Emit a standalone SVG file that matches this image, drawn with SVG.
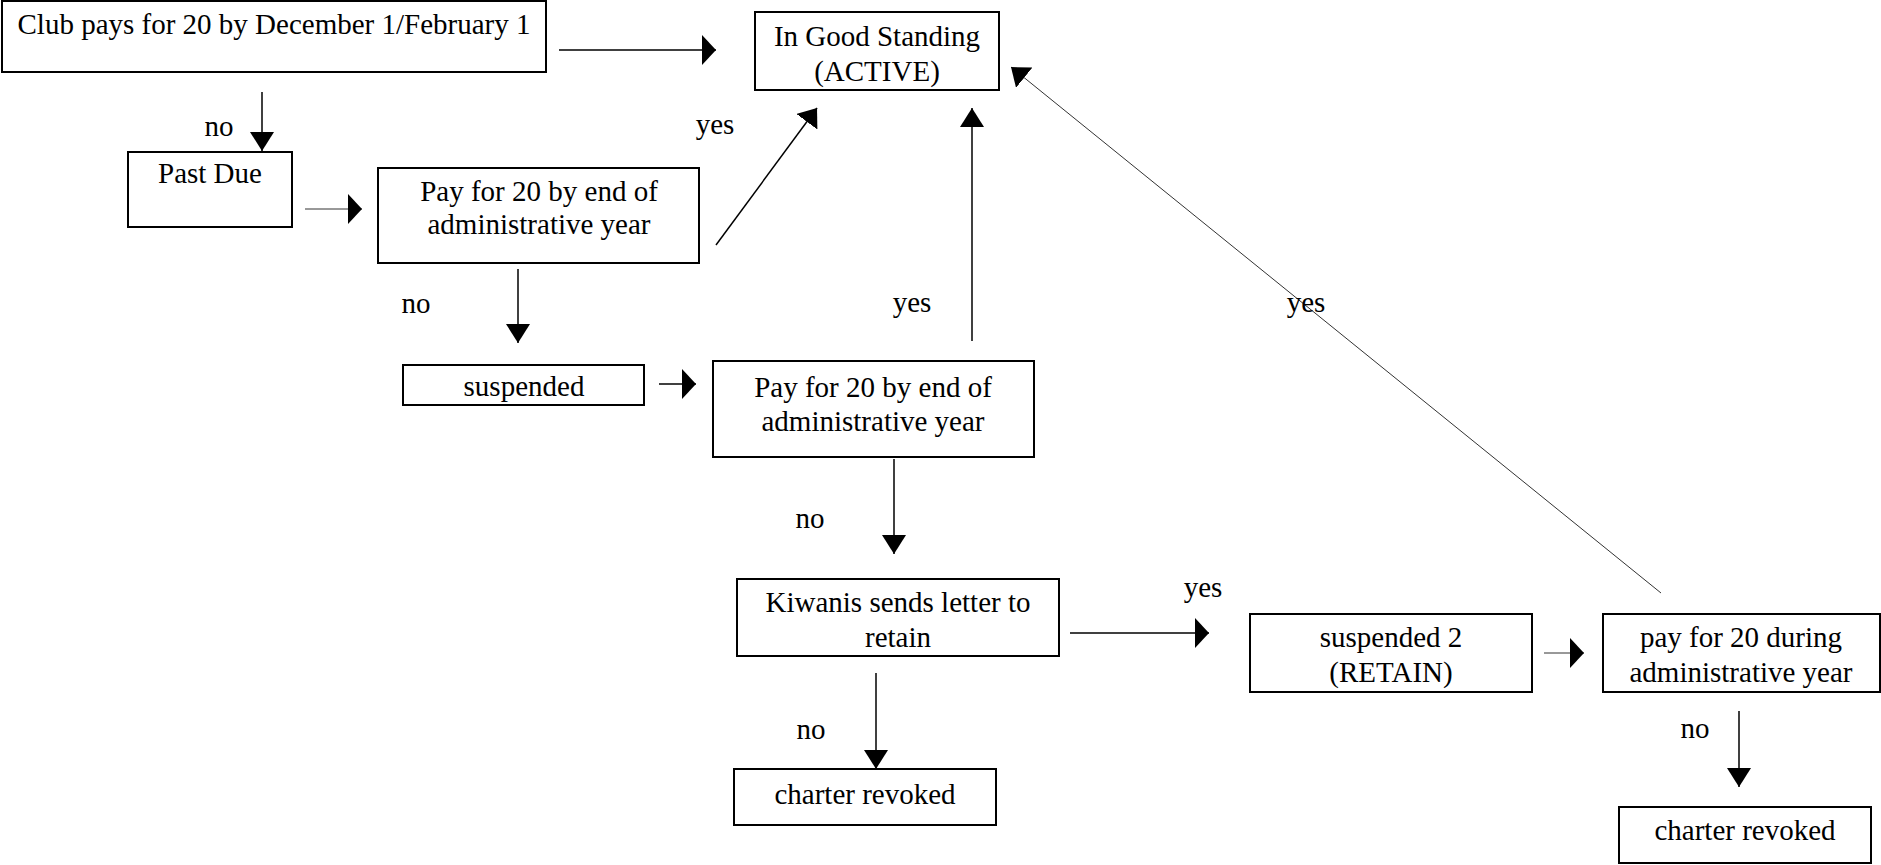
<svg xmlns="http://www.w3.org/2000/svg" width="1881" height="865" viewBox="0 0 1881 865">
<style>
.box{fill:#fff;stroke:#000;stroke-width:2}
text{font-family:"Liberation Serif","Times New Roman",serif;font-size:29px;fill:#000;text-anchor:middle}
.c{stroke:#000;stroke-width:1.5;fill:none}
.h{marker-end:url(#ahH)}
.v{marker-end:url(#ahV)}
.d{marker-end:url(#ahD)}
.thin{stroke:#333;stroke-width:1}
</style>
<defs>
<marker id="ahH" markerUnits="userSpaceOnUse" markerWidth="16" markerHeight="32" refX="14" refY="15" orient="auto">
<path d="M0,0 L14,15 L0,30 Z" fill="#000"/>
</marker>
<marker id="ahV" markerUnits="userSpaceOnUse" markerWidth="20" markerHeight="26" refX="19" refY="12" orient="auto">
<path d="M0,0 L19,12 L0,24 Z" fill="#000"/>
</marker>
<marker id="ahD" markerUnits="userSpaceOnUse" markerWidth="20" markerHeight="28" refX="17" refY="13" orient="auto">
<path d="M0,0 L17,13 L0,26 Z" fill="#000"/>
</marker>
</defs>
<rect width="1881" height="865" fill="#fff"/>
<g id="connectors">
<line class="c h" x1="559" y1="50" x2="716" y2="50"/>
<line class="c v" x1="262" y1="92" x2="262" y2="151"/>
<line class="c thin h" x1="305" y1="209" x2="362" y2="209"/>
<line class="c d" x1="716" y1="245" x2="817" y2="108"/>
<line class="c v" x1="518" y1="269" x2="518" y2="343"/>
<line class="c h" x1="659" y1="384" x2="696" y2="384"/>
<line class="c v" x1="972" y1="341" x2="972" y2="108"/>
<line class="c v" x1="894" y1="459" x2="894" y2="554"/>
<line class="c h" x1="1070" y1="633" x2="1209" y2="633"/>
<line class="c v" x1="876" y1="673" x2="876" y2="769"/>
<line class="c thin h" x1="1544" y1="653" x2="1584" y2="653"/>
<line class="c thin d" x1="1661" y1="593" x2="1011" y2="67"/>
<line class="c v" x1="1739" y1="711" x2="1739" y2="787"/>
<text x="219" y="136">no</text>
<text x="715" y="134">yes</text>
<text x="416" y="313">no</text>
<text x="912" y="312">yes</text>
<text x="810" y="528">no</text>
<text x="1203" y="597">yes</text>
<text x="811" y="739">no</text>
<text x="1306" y="312">yes</text>
<text x="1695" y="738">no</text>
</g>
<g id="n_club"><rect class="box" x="2" y="1" width="544" height="71"/><text x="274" y="34">Club pays for 20 by December 1/February 1</text></g>
<g id="n_active"><rect class="box" x="755" y="12" width="244" height="78"/><text x="877" y="46">In Good Standing</text><text x="877" y="81">(ACTIVE)</text></g>
<g id="n_pastdue"><rect class="box" x="128" y="152" width="164" height="75"/><text x="210" y="183">Past Due</text></g>
<g id="n_pay1"><rect class="box" x="378" y="168" width="321" height="95"/><text x="539" y="201">Pay for 20 by end of</text><text x="539" y="234">administrative year</text></g>
<g id="n_susp"><rect class="box" x="403" y="365" width="241" height="40"/><text x="524" y="396">suspended</text></g>
<g id="n_pay2"><rect class="box" x="713" y="361" width="321" height="96"/><text x="873" y="397">Pay for 20 by end of</text><text x="873" y="431">administrative year</text></g>
<g id="n_kiwanis"><rect class="box" x="737" y="579" width="322" height="77"/><text x="898" y="612">Kiwanis sends letter to</text><text x="898" y="647">retain</text></g>
<g id="n_revoked1"><rect class="box" x="734" y="769" width="262" height="56"/><text x="865" y="804">charter revoked</text></g>
<g id="n_susp2"><rect class="box" x="1250" y="614" width="282" height="78"/><text x="1391" y="647">suspended 2</text><text x="1391" y="682">(RETAIN)</text></g>
<g id="n_pay3"><rect class="box" x="1603" y="614" width="277" height="78"/><text x="1741" y="647">pay for 20 during</text><text x="1741" y="682">administrative year</text></g>
<g id="n_revoked2"><rect class="box" x="1619" y="807" width="252" height="56"/><text x="1745" y="840">charter revoked</text></g>
</svg>
